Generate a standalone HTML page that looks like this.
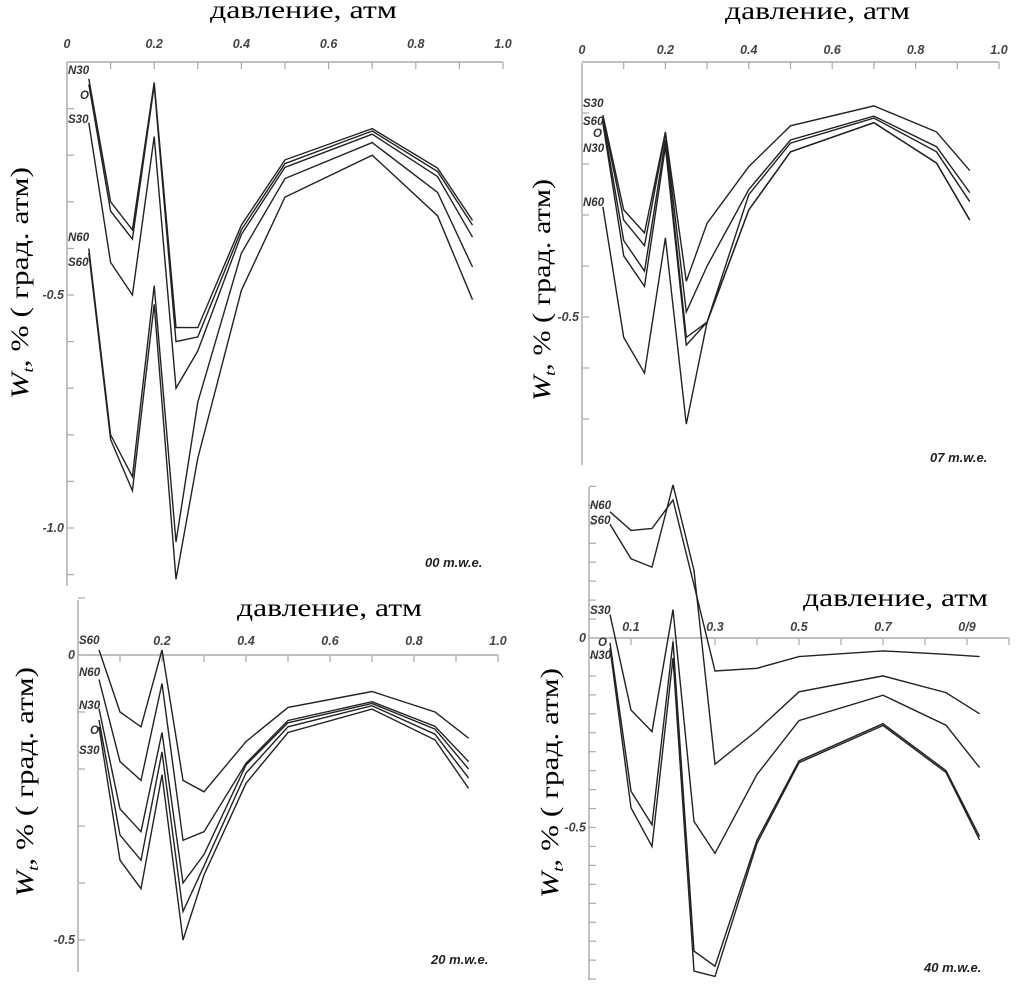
<!DOCTYPE html>
<html><head><meta charset="utf-8"><style>
html,body{margin:0;padding:0;background:#fff;}
svg{display:block;}
.tk{font-family:"Liberation Sans",sans-serif;font-size:12.5px;font-weight:bold;font-style:italic;fill:#444;}
.sl{font-family:"Liberation Sans",sans-serif;font-size:11.5px;font-weight:bold;font-style:italic;fill:#333;}
.ttl{font-family:"Liberation Serif","Noto Serif CJK SC",serif;font-size:25px;fill:#000;}
.mwe{font-family:"Liberation Sans",sans-serif;font-size:13px;font-weight:bold;font-style:italic;fill:#222;}
</style></head><body>
<svg id="fig" width="1026" height="998" viewBox="0 0 1026 998" xmlns="http://www.w3.org/2000/svg"></svg>
<script>
// shared pressure categories
const pressures = [0.05,0.1,0.15,0.2,0.25,0.3,0.4,0.5,0.7,0.85,0.93];
// Panel 1: 00 m.w.e.
const p1Names = ["N30","O","S30","N60","S60"];
const p1N30 = [-0.036,-0.30,-0.36,-0.044,-0.57,-0.57,-0.35,-0.21,-0.143,-0.228,-0.34];
const p1O   = [-0.048,-0.32,-0.38,-0.05,-0.60,-0.59,-0.36,-0.218,-0.148,-0.235,-0.35];
const p1S30 = [-0.13,-0.43,-0.50,-0.16,-0.70,-0.62,-0.37,-0.226,-0.155,-0.246,-0.376];
const p1N60 = [-0.40,-0.80,-0.89,-0.48,-1.03,-0.73,-0.41,-0.25,-0.173,-0.28,-0.44];
const p1S60 = [-0.41,-0.81,-0.92,-0.52,-1.11,-0.85,-0.49,-0.29,-0.20,-0.33,-0.51];
// Panel 2: 07 m.w.e.
const p2Names = ["S30","S60","O","N30","N60"];
const p2S30 = [-0.104,-0.29,-0.335,-0.137,-0.43,-0.316,-0.205,-0.125,-0.086,-0.137,-0.213];
const p2S60 = [-0.107,-0.31,-0.36,-0.14,-0.49,-0.40,-0.25,-0.153,-0.106,-0.166,-0.256];
const p2O   = [-0.114,-0.35,-0.41,-0.153,-0.54,-0.51,-0.26,-0.159,-0.11,-0.176,-0.274];
const p2N30 = [-0.12,-0.38,-0.44,-0.166,-0.555,-0.51,-0.29,-0.176,-0.119,-0.198,-0.31];
const p2N60 = [-0.284,-0.54,-0.61,-0.345,-0.71,-0.51,-0.29,-0.176,-0.119,-0.198,-0.31];
// Panel 3: 20 m.w.e.
const p3Names = ["S60","N60","N30","O","S30"];
const p3S60 = [0.009,-0.10,-0.126,0.009,-0.22,-0.24,-0.152,-0.092,-0.064,-0.10,-0.146];
const p3N60 = [-0.043,-0.187,-0.22,-0.05,-0.325,-0.31,-0.19,-0.115,-0.082,-0.125,-0.187];
const p3N30 = [-0.094,-0.27,-0.31,-0.136,-0.40,-0.35,-0.193,-0.119,-0.085,-0.13,-0.20];
const p3O   = [-0.114,-0.316,-0.36,-0.17,-0.45,-0.37,-0.207,-0.126,-0.089,-0.139,-0.216];
const p3S30 = [-0.126,-0.36,-0.41,-0.21,-0.50,-0.386,-0.225,-0.136,-0.095,-0.149,-0.234];
// Panel 4: 40 m.w.e.
const p4Names = ["N60","S60","S30","O","N30"];
const p4N60 = [0.333,0.284,0.289,0.364,0.14,-0.087,-0.08,-0.049,-0.034,-0.043,-0.049];
const p4S60 = [0.30,0.209,0.187,0.404,0.178,-0.333,-0.244,-0.142,-0.10,-0.144,-0.20];
const p4S30 = [0.062,-0.19,-0.247,0.075,-0.484,-0.568,-0.36,-0.218,-0.151,-0.23,-0.342];
const p4O   = [-0.013,-0.404,-0.493,-0.009,-0.826,-0.866,-0.533,-0.324,-0.226,-0.35,-0.524];
const p4N30 = [-0.027,-0.448,-0.55,-0.053,-0.879,-0.893,-0.542,-0.329,-0.231,-0.355,-0.533];
// tick labels
const p1XLabels = ["0","0.2","0.4","0.6","0.8","1.0"];
const p1XLabelVals = [0,0.2,0.4,0.6,0.8,1.0];
const p3XLabels = ["0.2","0.4","0.6","0.8","1.0"];
const p3XLabelVals = [0.2,0.4,0.6,0.8,1.0];
const p4XLabels = ["0.1","0.3","0.5","0.7","0/9"];
const p4XLabelVals = [0.1,0.3,0.5,0.7,0.9];

const NS="http://www.w3.org/2000/svg";
const svg=document.getElementById('fig');
function mk(tag,attrs,parent){const e=document.createElementNS(NS,tag);for(const k in attrs)e.setAttribute(k,attrs[k]);(parent||svg).appendChild(e);return e;}

const panels=[
 {id:"p1",x0:67,xs:436,y0:62,ys:466,yTop:62,yBot:586,yTickFrom:0,yTickTo:-1.1,yStep:0.1,yLabels:[[-0.5,"-0.5"],[-1.0,"-1.0"]],
  xl:p1XLabels,xlv:p1XLabelVals,xlY:48,names:p1Names,series:[p1N30,p1O,p1S30,p1N60,p1S60],
  lab:[[68,74],[80,99],[68,123],[68,241],[68,266]],mwe:["00 m.w.e.",425,567],
  title:[210,18,187],ytitle:[20,283,232]},
 {id:"p2",x0:582,xs:417,y0:62,ys:510,yTop:63,yBot:465,yTickFrom:-0.1,yTickTo:-0.7,yStep:0.1,yLabels:[[-0.5,"-0.5"]],
  xl:p1XLabels,xlv:p1XLabelVals,xlY:54,names:p2Names,series:[p2S30,p2S60,p2O,p2N30,p2N60],
  lab:[[583,107],[583,125],[593,137],[583,152],[583,206]],mwe:["07 m.w.e.",930,462],
  title:[725,19,185],ytitle:[542,290,222]},
 {id:"p3",x0:78,xs:420,y0:655,ys:570,yTop:600,yBot:972,yTickFrom:0.1,yTickTo:-0.5,yStep:0.1,yLabels:[[0,"0"],[-0.5,"-0.5"]],
  xl:p3XLabels,xlv:p3XLabelVals,xlY:645,names:p3Names,series:[p3S60,p3N60,p3N30,p3O,p3S30],
  lab:[[79,644],[79,676],[79,709],[90,734],[79,754]],mwe:["20 m.w.e.",431,964],
  title:[237,616,185],ytitle:[25,782,230]},
 {id:"p4",x0:589,xs:420,y0:638,ys:379,yTop:487,yBot:980,yTickFrom:0.4,yTickTo:-0.9,yStep:0.05,yLabels:[[0,"0"],[-0.5,"-0.5"]],
  xl:p4XLabels,xlv:p4XLabelVals,xlY:631,names:p4Names,series:[p4N60,p4S60,p4S30,p4O,p4N30],
  lab:[[590,509],[590,524],[590,614],[598,646],[590,659]],mwe:["40 m.w.e.",924,972],
  title:[803,606,185],ytitle:[550,783,230]}
];

panels.forEach(p=>{
  const g=mk('g',{});
  
  
  const X=v=>p.x0+v*p.xs, Y=v=>p.y0-v*p.ys;
  const ax=mk('line',{x1:X(0),y1:Y(0),x2:X(1.0),y2:Y(0),stroke:'#999','stroke-width':1.2},g);
  
  
  const ay=mk('line',{x1:X(0),y1:p.yTop,x2:X(0),y2:p.yBot,stroke:'#999','stroke-width':1.2},g);
  
  
  for(let i=1;i<=10;i++){
    const t=mk('line',{x1:X(i/10),y1:Y(0),x2:X(i/10),y2:Y(0)+7,stroke:'#aaa','stroke-width':1.2},g);
    
    
  }
  const n=Math.round((p.yTickFrom-p.yTickTo)/p.yStep);
  for(let i=0;i<=n;i++){
    const v=p.yTickFrom-i*p.yStep;
    const t=mk('line',{x1:X(0),y1:Y(v),x2:X(0)+7,y2:Y(v),stroke:'#aaa','stroke-width':1.2},g);
    
    
  }
  p.yLabels.forEach(([v,s])=>{
    const t=mk('text',{x:X(0)-3,y:Y(v)+4,'text-anchor':'end',class:'tk'},g);t.textContent=s;
    
    
  });
  p.xl.forEach((s,i)=>{
    const t=mk('text',{x:X(p.xlv[i]),y:p.xlY,'text-anchor':'middle',class:'tk'},g);t.textContent=s;
    
    
  });
  p.series.forEach((vals,si)=>{
    const d=vals.map((v,i)=>(i?'L':'M')+X(pressures[i]).toFixed(1)+','+Y(v).toFixed(1)).join(' ');
    const l=mk('path',{d:d,fill:'none',stroke:'#222','stroke-width':1.4,'stroke-linejoin':'miter'},g);
    
    
    const t=mk('text',{x:p.lab[si][0],y:p.lab[si][1],class:'sl'},g);t.textContent=p.names[si];
    
    
  });
  const m=mk('text',{x:p.mwe[1],y:p.mwe[2],class:'mwe'},g);m.textContent=p.mwe[0];
  
  
  const tt=mk('text',{x:p.title[0],y:p.title[1],class:'ttl',textLength:p.title[2],lengthAdjust:'spacingAndGlyphs'},g);
  tt.textContent='давление, атм';
  
  
  const yt=mk('text',{x:0,y:0,class:'ttl',transform:'translate('+(p.ytitle[0]+8)+','+p.ytitle[1]+') rotate(-90)','text-anchor':'middle',textLength:p.ytitle[2],lengthAdjust:'spacingAndGlyphs'},g);
  
  
  const w=mk('tspan',{'font-style':'italic'},yt);w.textContent='W';
  const s=mk('tspan',{'font-style':'italic','font-size':'15px',dy:'5'},yt);s.textContent='t';
  const r=mk('tspan',{dy:'-5'},yt);r.textContent=', % ( град. атм)';
});
</script>
</body></html>
